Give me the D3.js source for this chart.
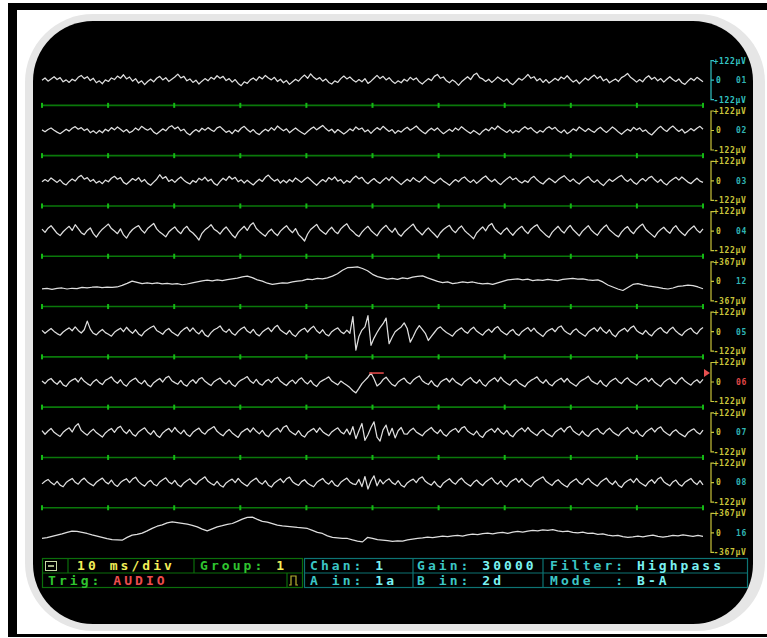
<!DOCTYPE html>
<html><head><meta charset="utf-8">
<script src="https://cdn.jsdelivr.net/npm/d3@7"></script>
<style>html,body{margin:0;padding:0;background:#fff;}svg{display:block;}</style>
</head><body>
<script>
// ---------- DATA ----------
const channelNames  = ["01","02","03","04","12","05","06","07","08","16"];
const channelRanges = [122,122,122,122,367,122,122,122,122,367];
const timeTicks = [0,10,20,30,40,50,60,70,80,90,100]; // ms (10 ms/div)

const t01 = [0,14,-6,8,22,4,16,-10,2,-14, 6,-4,18,30,10,22,-2,12,-16,-4, -22,2,-8,14,4,26,12,34,8,20, -6,10,-18,-4,-28,-8,6,-10,12,24, 2,16,-8,6,20,38,14,24,-4,8, -14,0,-24,-6,10,-4,18,6,28,12, 24,-2,10,-12,4,-20,-34,-10,-20,2, 14,-2,22,8,30,14,2,18,-8,6, -16,-2,-26,-10,6,-6,16,32,12,40, 18,4,16,-6,8,-14,-24,-4,-14,10, 26,8,20,2,-12,4,-10,10,-20,-6, 12,30,10,24,2,16,-6,-20,-4,-16, 6,-6,18,2,14,-10,-24,-6,10,-2, 24,36,12,20,-4,-16,2,-12,-32,-10, 6,22,4,32,44,16,8,-8,6,-14, 2,20,6,-8,8,-16,-28,-8,12,0, 16,36,12,22,-4,10,-14,4,-18,-4, 12,-2,20,8,28,6,-12,2,-22,-4, 14,0,18,32,10,24,-4,8,-16,-4, 8,-8,16,26,42,18,4,-12,4,-10, 14,28,6,18,-4,10,-12,6,22,4, -8,8,-16,-26,-6,12,-2,18,4,-10];
const t02 = [4,-8,6,16,2,-10,-20,-6,8,-4, 14,24,8,18,0,10,-14,-2,-18,0, -14,8,-4,18,4,22,8,-8,6,-14, -4,16,2,26,12,2,14,-10,-22,-6, 10,-2,20,30,10,22,-2,8,-16,-28, -8,6,-8,14,2,18,4,-6,16,24, 6,-12,-2,-20,4,-8,14,26,6,-10, 6,-16,-26,-6,8,-4,18,2,28,12, -2,10,-14,2,16,0,-12,-24,-6,10, 22,4,18,32,12,-4,8,-14,6,-8, -22,-8,10,-2,22,6,16,-8,4,-18, 2,18,4,26,10,-6,6,-18,0,-10, 8,20,2,14,28,8,-8,-20,0,14, 0,16,-4,-20,-6,8,-6,16,2,24, 8,-6,-18,0,-12,-26,-4,10,-2,20, 6,28,12,0,-12,4,-16,0,-10,10, 24,8,18,-2,-16,0,-10,12,24,8, 20,-2,-14,4,-20,-8,10,-2,22,8, -6,12,-2,-12,8,20,2,-12,4,22, 8,-10,-24,-6,8,-4,20,4,16,-6, 4,-16,-28,-8,12,26,6,-6,14,28, 10,-6,8,-16,-4,12,-2,14,26,8];
const t03 = [-6,8,-4,18,4,-10,6,-16,-26,-4, 12,-2,22,34,10,20,-4,8,-14,-2, -18,4,-6,16,28,10,20,-10,-22,-4, 14,2,20,-6,8,-16,-28,-8,10,38, 14,26,-4,8,-10,10,24,4,-10,-20, 2,-10,16,4,22,-2,10,-16,-28,-4, 16,2,28,10,22,-6,6,-14,4,-12, -26,-6,10,-4,22,36,14,-2,10,-14, 4,-12,8,-6,18,4,-10,8,22,6, -12,-28,-8,8,-6,20,6,24,-2,8, -16,2,-10,14,30,12,22,-4,-18,0, 14,-4,-16,4,20,2,26,8,-8,-24, -6,10,-4,20,4,-8,10,28,8,-4, -16,2,16,-2,-14,-28,-8,8,-6,14, 24,4,-10,6,-16,0,18,30,8,-6, 10,-10,-24,-4,12,26,6,18,-2,-14, 2,-10,16,28,6,-10,-20,0,16,4, -12,6,20,32,12,-4,12,-8,-20,0, 14,26,4,-10,6,-16,-30,-8,10,-4, 10,24,34,10,-4,12,-10,-22,0,14, -2,18,28,6,-10,8,-14,-26,-4,10, 22,4,24,8,-8,-18,0,16,-2,-10];
const t04 = [12,-8,18,34,10,-14,-28,-4,14,30, 4,40,16,-10,-22,4,20,-16,-38,-10, 12,28,44,16,0,-16,14,-24,-44,-12, 10,24,34,6,-12,16,32,48,14,-6, -20,-36,-6,12,26,0,-16,14,30,2, -12,-32,-56,-14,8,22,40,12,0,-18, 8,26,2,-24,-42,-8,12,30,4,36, 52,16,-2,-18,-32,-4,12,-12,-28,0, 18,34,8,-10,16,-22,-40,-62,-18,10, 26,42,10,-6,-20,6,24,-2,-16,14, 32,46,14,-2,-22,-34,-6,14,30,4, -14,-30,0,20,36,10,-8,18,-16,-32, -6,12,28,44,12,-6,-24,2,20,-2, -20,-40,-10,10,24,36,6,-10,16,32, 4,-14,-30,-48,-12,8,26,2,34,48, 14,-4,-20,4,20,-6,-26,-2,16,30, 2,-16,12,28,40,10,-8,-26,-40,-8, 12,30,4,-12,16,36,8,-10,-30,-2, 16,34,6,-12,-26,2,22,38,8,-8, -24,-36,-6,14,28,0,-16,12,30,44, 12,-6,-22,-38,-8,10,24,2,-14,16, 34,6,-12,-28,-2,16,32,6,-10,14];
const t12 = [-139,-133,-148,-133,-124,-143,-129,-137,-114,-124,-110,-105,-118,-108,-114,-105,-76,-38,6,-19,-42,-29,-44,-29,-48,-38,-53,-42,-63,-49,-29,-10,10,23,8,29,15,34,48,61,86,101,72,29,4,-34,-57,-42,-29,-34,-10,6,15,42,34,57,49,68,99,143,209,257,266,272,243,200,133,91,67,42,57,38,67,53,80,95,105,67,34,0,-23,-10,-42,-29,-10,-23,-11,-34,-48,-38,-57,-29,0,29,38,46,29,42,15,29,19,38,23,15,38,48,57,42,49,29,19,29,-10,-67,-105,-143,-171,-114,-57,-42,-67,-86,-99,-114,-133,-143,-124,-95,-86,-72,-80,-105,-139];
const t05 = [8,-10,6,20,2,-12,-22,-2,12,24, 6,30,8,-8,12,66,16,-10,-20,0, 14,-6,-16,-28,-4,10,22,0,28,6, -10,12,-14,-26,0,14,26,36,8,-4, -16,8,20,-2,-14,-26,0,16,28,2, 24,0,-14,10,-20,-32,-6,12,22,36, 8,-4,16,-10,-22,2,18,30,4,-8, 14,-14,-26,-2,12,24,0,26,40,10, -4,-16,8,-18,-30,-4,12,22,-2,20, 34,6,-10,12,-16,-26,0,14,24,0, -12,10,
  -10,95,-115,-30,10,30,100,-85,-40,-5,25,50,85,-75,-35,0,15,30,55,20,-65,-30,10,38,15,-10,-55,-30,-5,20,30,10,-5,
  -16,-28,-2,12,24,2,-10,14,28,4, -10,-22,2,16,-4,20,32,6,-8,-20, 2,14,-12,-24,0,14,26,2,22,-2, -16,-30,-4,10,20,0,26,36,8,-6, -18,6,18,-4,-16,-28,-2,12,24,2, 28,4,-10,12,-18,-32,-4,10,22,0, 24,36,8,-6,-16,8,-14,-26,0,16, 26,2,-10,14,28,4,-12,-24,0,14, 22,-2,-14,12,26];
const t06 = [6,-10,12,22,0,-14,8,-18,-28,-2, 12,22,0,28,4,-10,-22,2,16,-4, -16,10,20,32,6,-8,14,-14,-26,0, 14,24,0,-12,10,-18,-30,-4,10,22, 0,26,36,8,-4,-14,10,-16,-26,0, 14,-8,18,28,4,-10,-22,2,14,24, 0,-12,10,-16,-28,-2,12,22,34,6, -8,16,-10,-20,4,16,-4,20,30,4, -10,-22,0,12,-10,14,26,2,-12,10, -16,-28,-2,10,20,32,6,-6,-18,6,
  -8,-20,-35,-55,-68,-40,-10,10,30,56,20,-25,-10,15,30,5,
  -16,-26,0,14,24,0,-12,12,26,38, 8,-6,-16,8,-18,-30,-2,12,22,0, 24,2,-10,-22,2,16,28,4,-8,14, -14,-26,0,14,26,2,30,6,-8,-20, 4,16,-6,-18,-30,-4,10,20,32,6, -8,14,-12,-24,0,12,24,0,22,-2, -14,-26,-2,12,22,36,8,-4,-14,10, -16,-28,-2,12,24,2,-10,14,26,4, -8,-20,2,14,26,2,22,-2,-16,-28, -2,12,24,0,-12,12,28,6,-8,-20, 2,14,-6,16];
const t07 = [10,-12,8,24,0,-14,-26,0,16,28, 2,36,54,12,-4,-18,4,20,-2,-16, -30,-4,12,24,0,26,38,8,-8,16, -12,-24,2,16,28,2,-14,10,-18,-32, -4,12,24,2,30,6,-10,14,-14,-26, 0,14,26,0,-12,12,24,36,6,-10, -22,2,18,-4,-18,-32,-2,12,24,2, 28,6,-10,12,-16,-28,-2,14,26,2, 32,42,10,-4,-16,10,-18,-30,-2,12, 24,0,28,4,-10,-22,2,16,28,2,
  -10,20,-15,35,-40,10,55,-50,-15,30,65,-30,-55,15,45,-20,25,-35,10,30,-10,
  -12,12,26,2,-10,-22,2,16,30,6, -8,16,-12,-24,0,14,24,0,26,36, 8,-6,-16,8,-20,-32,-2,12,22,0, 26,2,-12,12,-16,-28,-2,14,26,4, 30,6,-8,-20,4,18,-4,-16,-28,0, 14,26,2,28,38,8,-6,-18,8,-14, -26,0,14,24,0,-12,12,26,4,-10, -22,2,16,30,4,-8,14,-14,-26,0, 14,26,2,24,34,6,-8,-20,4,16, -4,-16,-28,-2,12,22,0,-12,14];
const t08 = [-8,8,20,0,-14,8,-16,-26,0,14, 26,2,-10,14,28,6,-8,-20,2,16, 28,4,-8,16,-12,-24,0,14,24,0, 22,34,6,-10,-22,2,14,-10,-20,4, 18,30,4,-8,14,-14,-26,-2,12,24, 0,-12,10,22,36,8,-6,-16,8,-16, -28,-2,12,22,0,26,4,-10,-22,2, 16,28,2,-10,12,-16,-28,-2,12,24, 0,24,34,6,-8,-18,6,18,-4,-16, -26,0,14,26,2,-10,12,-14,-24,2, 16,28,4,-8,
  -12,20,-25,38,-40,10,42,-20,18,-8,
  12,24,0,-12,12,-16,-28,-2,12,22, 0,26,36,8,-6,-16,8,-18,-30,-2, 12,24,2,-10,14,28,4,-10,-22,2, 16,-4,-18,4,18,30,4,-10,12,-14, -26,0,14,26,2,24,0,-14,-26,0, 14,26,36,8,-6,-18,6,18,-2,-16, -28,-2,12,24,0,-12,12,26,4,-10, -22,2,16,28,2,-12,10,-18,-30,-2, 12,22,0,26,2,-10,-22,4,18,-4, 22,34,6,-8,-20,4,16,-10,-22,2, 14,26,2,-12,12,-14];
const t16 = [-105,-90,-66,-43,-19,9,34,28,9,-11,-38,-62,-85,-109,-128,-132,-137,-85,-43,-28,-4,38,85,126,150,188,207,192,179,164,141,113,71,38,75,113,135,160,177,216,259,291,297,254,216,203,173,145,132,122,113,102,94,83,47,9,-11,-56,-86,-94,-102,-105,-132,-154,-169,-85,-103,-128,-137,-147,-160,-150,-154,-132,-117,-103,-94,-79,-90,-75,-60,-71,-56,-47,-60,-38,-23,-34,-15,-4,-19,0,9,-9,15,28,15,34,47,38,56,47,60,38,23,34,9,0,15,-9,-4,-28,-19,-41,-56,-47,-71,-85,-75,-60,-75,-56,-41,-66,-79,-66,-47,-56,-38,-53,-66,-47,-66];
const traces = [t01,t02,t03,t04,t12,t05,t06,t07,t08,t16];

// status bar text
const statusRow1 = [
  {x:77,  parts:[["10 ms/div","#f2ee58"]]},
  {x:200, parts:[["Group: ","#2fc42f"],["1","#f2ee58"]]},
  {x:310, parts:[["Chan: ","#3cc6c6"],["1","#7af2f2"]]},
  {x:417, parts:[["Gain: ","#3cc6c6"],["30000","#7af2f2"]]},
  {x:550, parts:[["Filter: ","#3cc6c6"],["Highpass","#7af2f2"]]}
];
const statusRow2 = [
  {x:48,  parts:[["Trig: ","#2fc42f"],["AUDIO","#ec4c4c"]]},
  {x:310, parts:[["A in: ","#3cc6c6"],["1a","#7af2f2"]]},
  {x:417, parts:[["B in: ","#3cc6c6"],["2d","#7af2f2"]]},
  {x:550, parts:[["Mode  : ","#3cc6c6"],["B-A","#7af2f2"]]}
];

// ---------- DRAW ----------
const W = 767, H = 638;
const svg = d3.select("body").append("svg").attr("width",W).attr("height",H);
svg.append("rect").attr("width",W).attr("height",H).attr("fill","#fff");
svg.append("rect").attr("x",8).attr("y",3).attr("width",759).attr("height",634).attr("fill","#000");
svg.append("rect").attr("x",17).attr("y",10).attr("width",750).attr("height",624).attr("fill","#fff");
svg.append("rect").attr("x",25).attr("y",14).attr("width",740).attr("height",617).attr("rx",68).attr("fill","#e6e6e6");
svg.append("rect").attr("x",33).attr("y",21).attr("width",720).attr("height",603).attr("rx",60).attr("fill","#000");

const x = d3.scaleLinear().domain([0,100]).range([42,703]);
const rowStep = 50.3, row0 = 80.2, halfH = 19.5;

// green separators
for (let i = 0; i < channelNames.length - 1; i++) {
  const gy = row0 + rowStep*(i+0.5);
  svg.append("line").attr("x1",x(0)).attr("x2",x(100)).attr("y1",gy).attr("y2",gy)
    .attr("stroke","#0a780a").attr("stroke-width",1.6);
  svg.selectAll(null).data(timeTicks).enter().append("rect")
    .attr("x",d=>x(d)-1).attr("y",gy-2.5).attr("width",2).attr("height",5).attr("fill","#14b814");
}

// traces
traces.forEach((vals,ci) => {
  const cy = row0 + rowStep*ci;
  const r = channelRanges[ci];
  const y = d3.scaleLinear().domain([-r,r]).range([cy+halfH, cy-halfH]);
  const xi = d3.scaleLinear().domain([0, vals.length-1]).range([0,100]);
  const line = d3.line().x((d,i)=>x(xi(i))).y(d=>y(d));
  svg.append("path").datum(vals).attr("d",line).attr("fill","none")
    .attr("stroke","#dedede").attr("stroke-width",1.25).attr("stroke-linejoin","round");

  // bracket scale on right
  const col = ci === 0 ? "#33c3c3" : "#c9c43a";
  const bx = 711;
  const g = svg.append("g");
  g.append("path").attr("d",`M${bx+3},${y(r)} H${bx} V${y(-r)} H${bx+3} M${bx},${y(0)} H${bx+3}`)
    .attr("fill","none").attr("stroke",col).attr("stroke-width",1.2);
  const fs = {"font-family":"DejaVu Sans Mono","font-weight":"bold","font-size":"8px"};
  const lbls = [["+"+r+"μV", y(r)], ["0", y(0)], ["-"+r+"μV", y(-r)]];
  lbls.forEach(([t,yy],k) => {
    const tx = g.append("text").attr("x", k===1 ? 716 : 713.5).attr("y",yy).attr("dy","0.35em")
      .attr("fill",col).attr("letter-spacing","0.7px").text(t);
    Object.entries(fs).forEach(([a,v])=>tx.attr(a,v));
  });
  const nc = channelNames[ci]==="06" ? "#e04848" : "#2fb4b4";
  const tn = g.append("text").attr("x",736).attr("y",y(0)).attr("dy","0.35em").attr("fill",nc)
    .attr("letter-spacing","0.7px").text(channelNames[ci]);
  Object.entries(fs).forEach(([a,v])=>tn.attr(a,v));
});

// trigger markers on channel 06
{
  const ci = channelNames.indexOf("06");
  const cy = row0 + rowStep*ci;
  const y = d3.scaleLinear().domain([-122,122]).range([cy+halfH, cy-halfH]);
  svg.append("line").attr("x1",x(49.5)).attr("x2",x(51.7)).attr("y1",y(56)).attr("y2",y(56))
    .attr("stroke","#e04848").attr("stroke-width",1.6);
  svg.append("path").attr("d",`M704,${y(56)-4} L710,${y(56)} L704,${y(56)+4} Z`).attr("fill","#e85050");
}

// status bar
const green = "#0b6e0b", teal = "#0d7474";
const sb = svg.append("g").attr("fill","none").attr("stroke-width",1.2);
sb.append("rect").attr("x",42.5).attr("y",558.5).attr("width",260).attr("height",29).attr("stroke",green);
sb.append("line").attr("x1",42.5).attr("x2",302.5).attr("y1",573).attr("y2",573).attr("stroke",green);
[68,194].forEach(v=>sb.append("line").attr("x1",v).attr("x2",v).attr("y1",558.5).attr("y2",573).attr("stroke",green));
sb.append("line").attr("x1",287).attr("x2",287).attr("y1",573).attr("y2",587.5).attr("stroke",green);
sb.append("rect").attr("x",304.5).attr("y",558.5).attr("width",443).attr("height",29).attr("stroke",teal);
sb.append("line").attr("x1",304.5).attr("x2",747.5).attr("y1",573).attr("y2",573).attr("stroke",teal);
[413,543].forEach(v=>sb.append("line").attr("x1",v).attr("x2",v).attr("y1",558.5).attr("y2",587.5).attr("stroke",teal));
sb.append("rect").attr("x",45.5).attr("y",561.5).attr("width",11).attr("height",9).attr("stroke","#c8d8a8").attr("stroke-width",1);
sb.append("line").attr("x1",48).attr("x2",54).attr("y1",566).attr("y2",566).attr("stroke","#d8e8b0").attr("stroke-width",1.5);
sb.append("path").attr("d","M289,585 H291 V576 H296 V585 H298").attr("stroke","#b8b030").attr("stroke-width",1.2);

function drawRow(items, yy) {
  items.forEach(it => {
    const t = svg.append("text").attr("x",it.x).attr("y",yy)
      .attr("font-family","DejaVu Sans Mono").attr("font-weight","bold").attr("font-size","13px")
      .attr("letter-spacing","3.05px").attr("xml:space","preserve").style("white-space","pre");
    it.parts.forEach(([s,c]) => t.append("tspan").attr("fill",c).text(s));
  });
}
drawRow(statusRow1, 570);
drawRow(statusRow2, 584.5);
</script>
</body></html>
